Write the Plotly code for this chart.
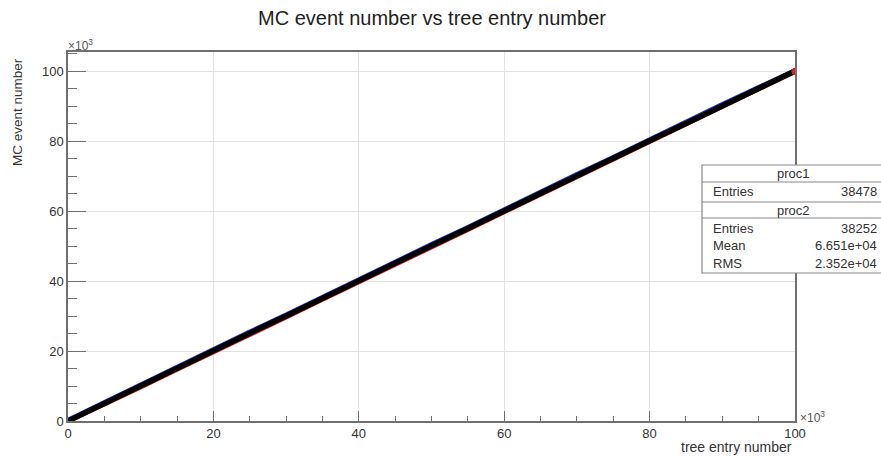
import plotly.graph_objects as go

# ---- data (values in units of 10^3) ----
entry = [0, 5, 10, 15, 20, 25, 30, 35, 40, 45, 50, 55, 60, 65, 70, 75, 80, 85, 90, 95, 100]
proc1_event = [0.0, 4.8, 9.7, 14.8, 19.7, 24.8, 29.7, 34.8, 39.7, 44.8, 49.8, 54.7, 59.8, 64.8, 69.7, 74.8, 79.8, 84.8, 89.7, 94.8, 99.9]
proc2_event = [0.2, 5.3, 10.3, 15.4, 20.3, 25.4, 30.3, 35.4, 40.4, 45.3, 50.4, 55.3, 60.4, 65.3, 70.4, 75.3, 80.4, 85.3, 90.4, 95.3, 100.1]
all_event = [0.0, 5.1, 10.0, 15.2, 20.0, 25.1, 30.0, 35.1, 40.0, 45.1, 50.1, 55.0, 60.1, 65.0, 70.1, 75.0, 80.1, 85.0, 90.1, 95.0, 100.0]

x_ticks = [0, 20, 40, 60, 80, 100]
y_ticks = [0, 20, 40, 60, 80, 100]

stats_proc1 = [("Entries", "38478")]
stats_proc2 = [("Entries", "38252"), ("Mean", "6.651e+04"), ("RMS", "2.352e+04")]

W, H = 881, 458
L, R, T, B = 68, 86, 52, 37
PW, PH = W - L - R, H - T - B

def px(x):
    return (x - L) / PW

def py(y):
    return (H - B - y) / PH

fig = go.Figure()
fig.add_trace(go.Scatter(x=entry, y=proc1_event, mode="lines", line=dict(color="#e02020", width=5), showlegend=False))
fig.add_trace(go.Scatter(x=entry, y=proc2_event, mode="lines", line=dict(color="#3030d0", width=5), showlegend=False))
fig.add_trace(go.Scatter(x=entry, y=all_event, mode="lines", line=dict(color="black", width=5.5), showlegend=False))
fig.add_trace(go.Scatter(x=[entry[-1]], y=[proc1_event[-1]], mode="markers", marker=dict(color="#e02020", size=7), showlegend=False))

font = "Liberation Sans, Arial, sans-serif"

axis_common = dict(
    showline=True, mirror=True, linecolor="#707070", linewidth=1.5,
    showgrid=True, gridcolor="#e2e2e2", gridwidth=1,
    zeroline=False, ticks="inside", tickcolor="#707070",
    tickfont=dict(family=font, size=13, color="#333"),
)

fig.update_xaxes(
    range=[0, 100], tickvals=x_ticks, ticklen=10, tickwidth=1,
    minor=dict(dtick=5, ticks="inside", ticklen=5, tickcolor="#707070", showgrid=False),
    **axis_common,
)
fig.update_yaxes(
    range=[0, 105.43], tickvals=y_ticks, ticklen=18, tickwidth=1,
    minor=dict(dtick=5, ticks="inside", ticklen=9, tickcolor="#707070", showgrid=False),
    **axis_common,
)

shapes = []
annotations = []

# title
annotations.append(dict(x=px(432), y=py(18), xref="paper", yref="paper", yanchor="middle",
                        text="MC event number vs tree entry number", showarrow=False,
                        font=dict(family=font, size=20, color="#222")))
# axis titles
annotations.append(dict(x=px(794), y=py(447), xref="paper", yref="paper", xanchor="right", yanchor="middle",
                        text="tree entry number", showarrow=False, font=dict(family=font, size=14, color="#333")))
annotations.append(dict(x=px(18), y=py(56), xref="paper", yref="paper", xanchor="center", yanchor="top",
                        text="MC event number", textangle=-90, showarrow=False,
                        font=dict(family=font, size=13.5, color="#333")))
# multipliers
annotations.append(dict(x=px(66), y=py(45), xref="paper", yref="paper", xanchor="left", yanchor="middle",
                        text="×10<sup>3</sup>", showarrow=False, font=dict(family=font, size=12, color="#555")))
annotations.append(dict(x=px(798), y=py(417), xref="paper", yref="paper", xanchor="left", yanchor="middle",
                        text="×10<sup>3</sup>", showarrow=False, font=dict(family=font, size=12, color="#555")))

# stats box
bx0, bx1 = 702, 900
by0, by1 = 165, 273
shapes.append(dict(type="rect", xref="paper", yref="paper", x0=px(bx0), x1=px(bx1), y0=py(by1), y1=py(by0),
                   line=dict(color="#888", width=1.2), fillcolor="white", layer="above"))
for yl in [182, 202, 218]:
    shapes.append(dict(type="line", xref="paper", yref="paper", x0=px(bx0), x1=px(bx1), y0=py(yl), y1=py(yl),
                       line=dict(color="#888", width=1.2), layer="above"))

sfont = dict(family=font, size=13, color="#333")
annotations.append(dict(x=px(793), y=py(173.5), xref="paper", yref="paper", text="proc1", showarrow=False,
                        xanchor="center", yanchor="middle", font=sfont))
annotations.append(dict(x=px(793), y=py(210), xref="paper", yref="paper", text="proc2", showarrow=False,
                        xanchor="center", yanchor="middle", font=sfont))
rows = [(192, stats_proc1[0])] + list(zip([228, 245.5, 263], stats_proc2))
for yc, (lab, val) in rows:
    annotations.append(dict(x=px(711), y=py(yc), xref="paper", yref="paper", text=lab, showarrow=False,
                            xanchor="left", yanchor="middle", font=sfont))
    annotations.append(dict(x=px(879), y=py(yc), xref="paper", yref="paper", text=val, showarrow=False,
                            xanchor="right", yanchor="middle", font=sfont))

fig.update_layout(
    width=W, height=H,
    margin=dict(l=L, r=R, t=T, b=B),
    paper_bgcolor="white", plot_bgcolor="white",
    shapes=shapes, annotations=annotations,
    showlegend=False,
)

fig.write_html("out.html", config={"displayModeBar": False},
               post_script="document.body.style.margin='0';document.body.style.overflow='hidden';")
